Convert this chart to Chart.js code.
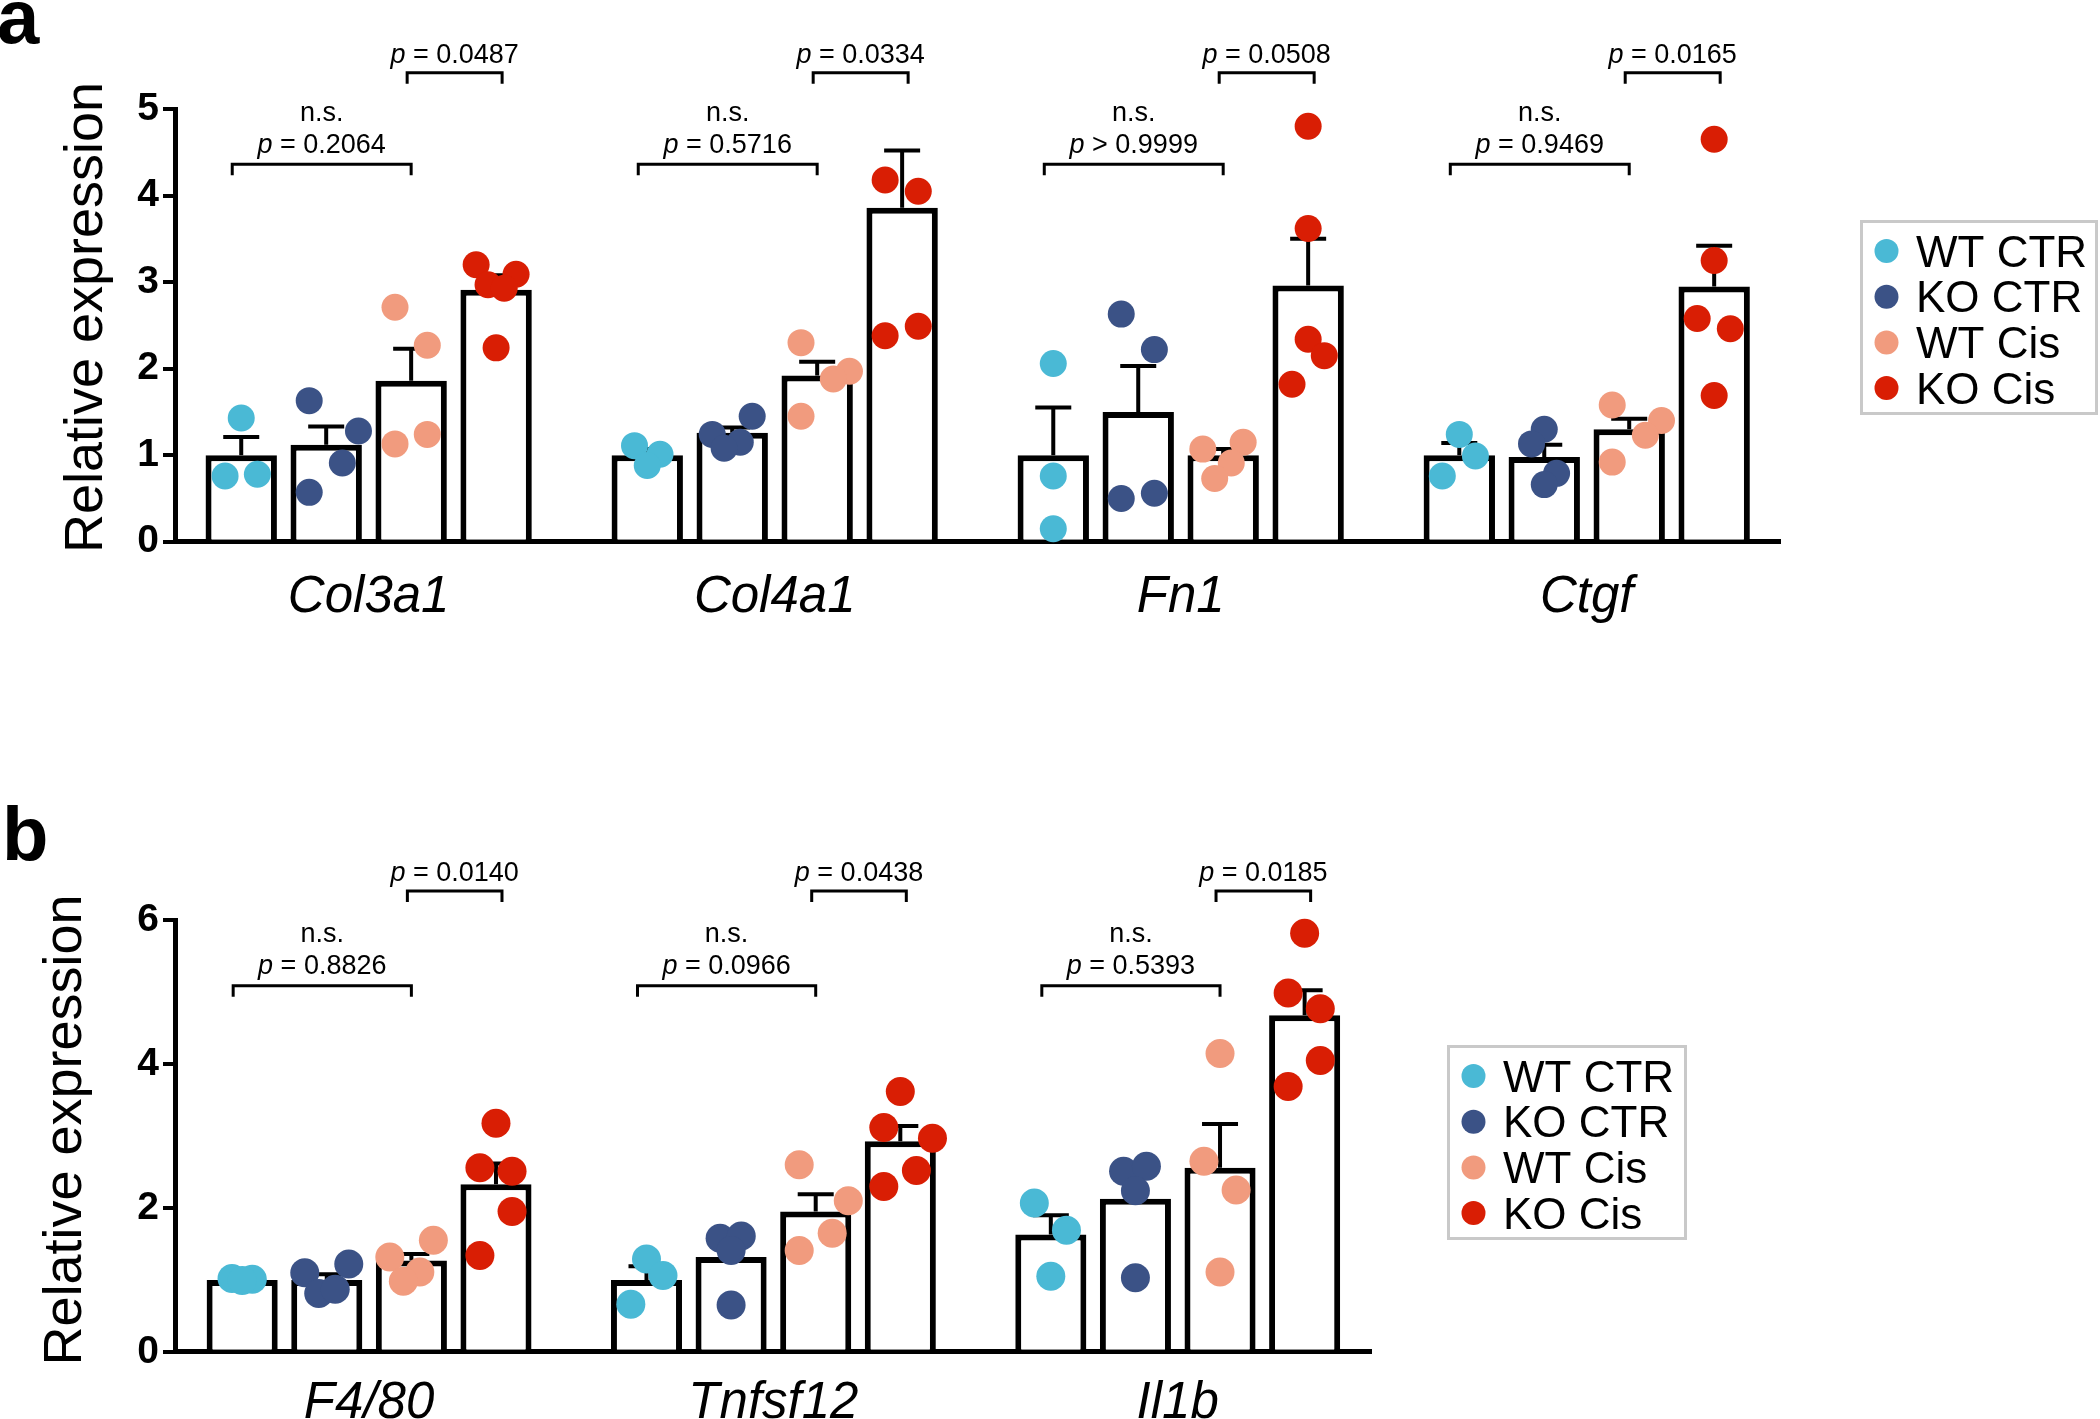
<!DOCTYPE html>
<html>
<head>
<meta charset="utf-8">
<title>Relative expression</title>
<script src="https://cdn.jsdelivr.net/npm/chart.js@4.4.1/dist/chart.umd.min.js"></script>
<style>
  html, body { margin: 0; padding: 0; background: #ffffff; }
  #wrap { position: relative; width: 2100px; height: 1419px; overflow: hidden; }
  canvas { position: absolute; left: 0; }
  #chartA { top: 0; }
  #chartB { top: 700px; }
</style>
</head>
<body>
<div id="wrap">
  <canvas id="chartA" width="2100" height="700"></canvas>
  <canvas id="chartB" width="2100" height="719"></canvas>
</div>
<script>
// groups, same order in both panels
const groupNames = ['WT CTR', 'KO CTR', 'WT Cis', 'KO Cis'];
const groupColors = ['#4ab9d5', '#3b5286', '#f19b7e', '#d91e04'];

// ---- panel a ----
const genesA = ['Col3a1', 'Col4a1', 'Fn1', 'Ctgf'];
const wtCtrMeanA = [1.00, 1.00, 1.00, 1.00];
const koCtrMeanA = [1.12, 1.26, 1.50, 0.98];
const wtCisMeanA = [1.86, 1.92, 1.00, 1.30];
const koCisMeanA = [2.91, 3.86, 2.96, 2.95];
const wtCtrSemA = [0.21, 0.07, 0.55, 0.14];
const koCtrSemA = [0.21, 0.06, 0.53, 0.14];
const wtCisSemA = [0.37, 0.16, 0.07, 0.12];
const koCisSemA = [0.17, 0.66, 0.54, 0.47];
// single animals, one list per gene
const wtCtrPtsA = [[1.43, 0.76, 0.78], [1.11, 1.01, 0.88], [2.06, 0.76, 0.15], [1.24, 0.99, 0.76]];
const koCtrPtsA = [[1.63, 1.28, 0.91, 0.57], [1.45, 1.24, 1.15, 1.08], [2.63, 2.22, 0.56, 0.50], [1.30, 1.13, 0.79, 0.66]];
const wtCisPtsA = [[2.71, 2.27, 1.24, 1.13], [2.30, 1.97, 1.88, 1.45], [1.15, 1.07, 0.91, 0.73], [1.58, 1.40, 1.23, 0.92]];
const koCisPtsA = [[3.20, 3.09, 2.97, 2.93, 2.24], [4.18, 4.05, 2.49, 2.38], [4.80, 3.62, 2.34, 2.15, 1.82], [4.65, 3.25, 2.58, 2.46, 1.69]];
const nsPA = ['= 0.2064', '= 0.5716', '> 0.9999', '= 0.9469'];
const sigPA = ['= 0.0487', '= 0.0334', '= 0.0508', '= 0.0165'];

// ---- panel b ----
const genesB = ['F4/80', 'Tnfsf12', 'Il1b'];
const wtCtrMeanB = [1.00, 1.00, 1.63];
const koCtrMeanB = [1.00, 1.32, 2.13];
const wtCisMeanB = [1.27, 1.95, 2.56];
const koCisMeanB = [2.33, 2.93, 4.68];
const wtCtrSemB = [0.02, 0.19, 0.27];
const koCtrSemB = [0.08, 0.22, 0.33];
const wtCisSemB = [0.09, 0.24, 0.61];
const koCisSemB = [0.29, 0.21, 0.35];
const wtCtrPtsB = [[1.02, 1.01, 0.99], [1.29, 1.06, 0.66], [2.07, 1.69, 1.05]];
const koCtrPtsB = [[1.10, 1.22, 0.81, 0.87], [1.58, 1.61, 1.41, 0.65], [2.51, 2.58, 2.24, 1.03]];
const wtCisPtsB = [[1.32, 1.55, 1.11, 0.98], [2.60, 2.10, 1.65, 1.41], [4.15, 2.65, 2.25, 1.11]];
const koCisPtsB = [[3.18, 2.56, 2.51, 1.95, 1.34], [3.62, 3.12, 2.97, 2.52, 2.30], [5.82, 4.99, 4.77, 4.05, 3.69]];
const nsPB = ['= 0.8826', '= 0.0966', '= 0.5393'];
const sigPB = ['= 0.0140', '= 0.0438', '= 0.0185'];

// sideways spread of the dots, in bar widths (layout only, not data)
const wtCtrJitA = [[0, -0.19, 0.19], [-0.15, 0.15, 0], [0, 0, 0], [0, 0.19, -0.2]];
const koCtrJitA = [[-0.2, 0.38, 0.19, -0.2], [0.235, -0.235, 0.095, -0.095], [-0.2, 0.19, 0.19, -0.2], [0, -0.15, 0.145, 0]];
const wtCisJitA = [[-0.19, 0.19, 0.19, -0.19], [-0.19, 0.38, 0.19, -0.19], [0.235, -0.24, 0.095, -0.1], [-0.2, 0.38, 0.19, -0.2]];
const koCisJitA = [[-0.235, 0.235, -0.095, 0.095, 0], [-0.2, 0.19, 0.19, -0.2], [0, 0, 0, 0.19, -0.19], [0, 0, -0.2, 0.19, 0]];
const wtCtrJitB = [[-0.12, 0.12, 0], [0, 0.195, -0.185], [-0.195, 0.185, 0]];
const koCtrJitB = [[-0.26, 0.26, -0.095, 0.1], [-0.13, 0.12, 0, 0], [-0.14, 0.13, 0, 0]];
const wtCisJitB = [[-0.255, 0.26, 0.1, -0.095], [-0.195, 0.385, 0.195, -0.195], [0, -0.19, 0.19, 0]];
const koCisJitB = [[0, -0.19, 0.19, 0.19, -0.19], [0, -0.195, 0.38, 0.19, -0.195], [0, -0.195, 0.185, 0.185, -0.195]];

const FONT = "'Liberation Sans', Arial, Helvetica, sans-serif";
const CAT_PCT = 0.837;        // share of a gene slot used by its 4 bars
const BAR_PCT = 0.84;         // bar width inside its own slot
const PITCH = CAT_PCT / 4;    // distance between bar centres in x units

Chart.defaults.font.family = FONT;

// bars (white boxes) + dot clouds, built from the arrays above
function buildDatasets(means, sems, pts, jits, dotRadius) {
    const sets = [];
    groupNames.forEach((name, g) => {
        sets.push({
            type: 'bar',
            label: name,
            order: 1,
            data: means[g].map((v, i) => ({ x: i, y: v })),
            sem: sems[g],
            backgroundColor: '#ffffff',
            borderColor: '#000000',
            borderWidth: 6,
            categoryPercentage: CAT_PCT,
            barPercentage: BAR_PCT
        });
    });
    groupNames.forEach((name, g) => {
        const data = [];
        pts[g].forEach((list, i) => {
            list.forEach((v, k) => {
                data.push({ x: i + (g - 1.5 + jits[g][i][k]) * PITCH, y: v });
            });
        });
        sets.push({
            type: 'scatter',
            label: name,
            order: 0,
            data: data,
            backgroundColor: groupColors[g],
            borderWidth: 0,
            pointRadius: dotRadius,
            pointHoverRadius: dotRadius,
            clip: false
        });
    });
    return sets;
}

// SEM whiskers, drawn after the bars and before the dots
const errorBars = {
    id: 'errorBars',
    afterDatasetDraw(chart, args) {
        if (args.index !== 0) return;
        const ctx = chart.ctx;
        const yScale = chart.scales.y;
        ctx.save();
        ctx.strokeStyle = '#000';
        ctx.lineWidth = 4;
        for (let g = 0; g < 4; g++) {
            const ds = chart.data.datasets[g];
            chart.getDatasetMeta(g).data.forEach((bar, i) => {
                const top = yScale.getPixelForValue(ds.data[i].y + ds.sem[i]);
                ctx.beginPath();
                ctx.moveTo(bar.x, bar.y);
                ctx.lineTo(bar.x, top);
                ctx.moveTo(bar.x - 18, top);
                ctx.lineTo(bar.x + 18, top);
                ctx.stroke();
            });
        }
        ctx.restore();
    }
};

function drawBracket(ctx, x1, x2, y) {
    ctx.beginPath();
    ctx.moveTo(x1, y + 11);
    ctx.lineTo(x1, y);
    ctx.lineTo(x2, y);
    ctx.lineTo(x2, y + 11);
    ctx.stroke();
}

// "p = 0.1234" with an italic p, centred on cx
function drawPText(ctx, rel, cx, baseY) {
    ctx.font = `italic 27px ${FONT}`;
    const wp = ctx.measureText('p').width;
    ctx.font = `27px ${FONT}`;
    const rest = ' ' + rel;
    const wr = ctx.measureText(rest).width;
    const x0 = cx - (wp + wr) / 2;
    ctx.textAlign = 'left';
    ctx.font = `italic 27px ${FONT}`;
    ctx.fillText('p', x0, baseY);
    ctx.font = `27px ${FONT}`;
    ctx.fillText(rest, x0 + wp, baseY);
}

// brackets, p values, axis title, panel letter and boxed legend
function panelDecor(cfg) {
    return {
        id: 'panelDecor',
        afterDraw(chart) {
            const ctx = chart.ctx;
            const yScale = chart.scales.y;
            const bars = [0, 1, 2, 3].map(g => chart.getDatasetMeta(g).data);
            const yNs = yScale.getPixelForValue(cfg.nsLevel);
            const ySig = yScale.getPixelForValue(cfg.sigLevel);

            ctx.save();
            ctx.fillStyle = '#000';
            ctx.strokeStyle = '#000';
            ctx.lineWidth = 3;
            ctx.textBaseline = 'alphabetic';

            cfg.genes.forEach((gene, i) => {
                const a1 = bars[0][i].x - 9, a2 = bars[2][i].x;
                const b1 = bars[2][i].x - 4, b2 = bars[3][i].x + 6;
                drawBracket(ctx, a1, a2, yNs);
                drawBracket(ctx, b1, b2, ySig);

                ctx.font = `27px ${FONT}`;
                ctx.textAlign = 'center';
                ctx.fillText('n.s.', (a1 + a2) / 2, yNs - 43.5);
                drawPText(ctx, cfg.nsP[i], (a1 + a2) / 2, yNs - 11.5);
                drawPText(ctx, cfg.sigP[i], (b1 + b2) / 2, ySig - 10);
            });

            // y axis title
            ctx.save();
            ctx.translate(cfg.title.x, cfg.title.y);
            ctx.rotate(-Math.PI / 2);
            ctx.font = `54px ${FONT}`;
            ctx.textAlign = 'center';
            ctx.fillText('Relative expression', 0, 0);
            ctx.restore();

            // panel letter
            ctx.font = `bold 76px ${FONT}`;
            ctx.textAlign = 'left';
            ctx.fillText(cfg.letter.text, cfg.letter.x, cfg.letter.y);

            // legend
            const L = cfg.legend;
            ctx.lineWidth = 3;
            ctx.strokeStyle = '#c9c9c9';
            ctx.strokeRect(L.x + 1.5, L.y + 1.5, L.w - 3, L.h - 3);
            ctx.font = `44px ${FONT}`;
            for (let g = 0; g < 4; g++) {
                const ds = chart.data.datasets[4 + g];
                const cy = L.y + 31 + g * 45.7;
                ctx.fillStyle = ds.backgroundColor;
                ctx.beginPath();
                ctx.arc(L.x + 26.5, cy, 12, 0, Math.PI * 2);
                ctx.fill();
                ctx.fillStyle = '#000';
                ctx.fillText(ds.label, L.x + 56, cy + 15.5);
            }
            ctx.restore();
        }
    };
}

function makePanel(canvasId, cfg) {
    const ctx = document.getElementById(canvasId).getContext('2d');
    return new Chart(ctx, {
        type: 'bar',
        data: { datasets: buildDatasets(cfg.means, cfg.sems, cfg.points, cfg.jitter, cfg.dotRadius) },
        options: {
            responsive: false,
            animation: false,
            events: [],
            devicePixelRatio: 1,
            layout: { padding: cfg.padding },
            plugins: { legend: { display: false }, tooltip: { enabled: false } },
            scales: {
                x: {
                    type: 'linear',
                    offset: false,
                    min: cfg.xMin,
                    max: cfg.xMax,
                    afterFit: (s) => { s.height = cfg.xHeight; },
                    grid: { display: false, drawTicks: false },
                    border: { display: true, color: '#000', width: 5 },
                    ticks: {
                        stepSize: 1,
                        includeBounds: false,
                        autoSkip: false,
                        maxRotation: 0,
                        minRotation: 0,
                        padding: cfg.xLabelPad,
                        color: '#000',
                        font: { family: FONT, size: 51, style: 'italic' },
                        callback: (v) => (Number.isInteger(v) && cfg.genes[v]) ? cfg.genes[v] : ''
                    }
                },
                y: {
                    min: 0,
                    max: cfg.yMax,
                    afterFit: (s) => { s.width = 175; },
                    grid: { drawOnChartArea: false, drawTicks: true, tickLength: 12, lineWidth: 4, color: '#000' },
                    border: { display: true, color: '#000', width: 5 },
                    ticks: {
                        stepSize: cfg.yStep,
                        padding: 4,
                        color: '#000',
                        font: { family: FONT, size: 39, weight: 'bold' }
                    }
                }
            }
        },
        plugins: [errorBars, panelDecor(cfg)]
    });
}

makePanel('chartA', {
    genes: genesA,
    means: [wtCtrMeanA, koCtrMeanA, wtCisMeanA, koCisMeanA],
    sems: [wtCtrSemA, koCtrSemA, wtCisSemA, koCisSemA],
    points: [wtCtrPtsA, koCtrPtsA, wtCisPtsA, koCisPtsA],
    jitter: [wtCtrJitA, koCtrJitA, wtCisJitA, koCisJitA],
    nsP: nsPA,
    sigP: sigPA,
    dotRadius: 13.5,
    yMax: 5,
    yStep: 1,
    xMin: -0.477,
    xMax: 3.476,
    xHeight: 100,
    xLabelPad: 26,
    padding: { left: 0, top: 109, right: 320, bottom: 58.3 },
    nsLevel: 4.363,
    sigLevel: 5.42,
    title: { x: 102, y: 317.5 },
    letter: { text: 'a', x: -3, y: 43 },
    legend: { x: 1860, y: 220, w: 238, h: 195 }
});

makePanel('chartB', {
    genes: genesB,
    means: [wtCtrMeanB, koCtrMeanB, wtCisMeanB, koCisMeanB],
    sems: [wtCtrSemB, koCtrSemB, wtCisSemB, koCisSemB],
    points: [wtCtrPtsB, koCtrPtsB, wtCisPtsB, koCisPtsB],
    jitter: [wtCtrJitB, koCtrJitB, wtCisJitB, koCisJitB],
    nsP: nsPB,
    sigP: sigPB,
    dotRadius: 14.5,
    yMax: 6,
    yStep: 2,
    xMin: -0.48,
    xMax: 2.479,
    xHeight: 67,
    xLabelPad: 21,
    padding: { left: 0, top: 220.4, right: 728.6, bottom: 0.2 },
    nsLevel: 5.09,
    sigLevel: 6.41,
    title: { x: 81, y: 430 },
    letter: { text: 'b', x: 2, y: 160 },
    legend: { x: 1447, y: 345, w: 240, h: 195 }
});
</script>
</body>
</html>
